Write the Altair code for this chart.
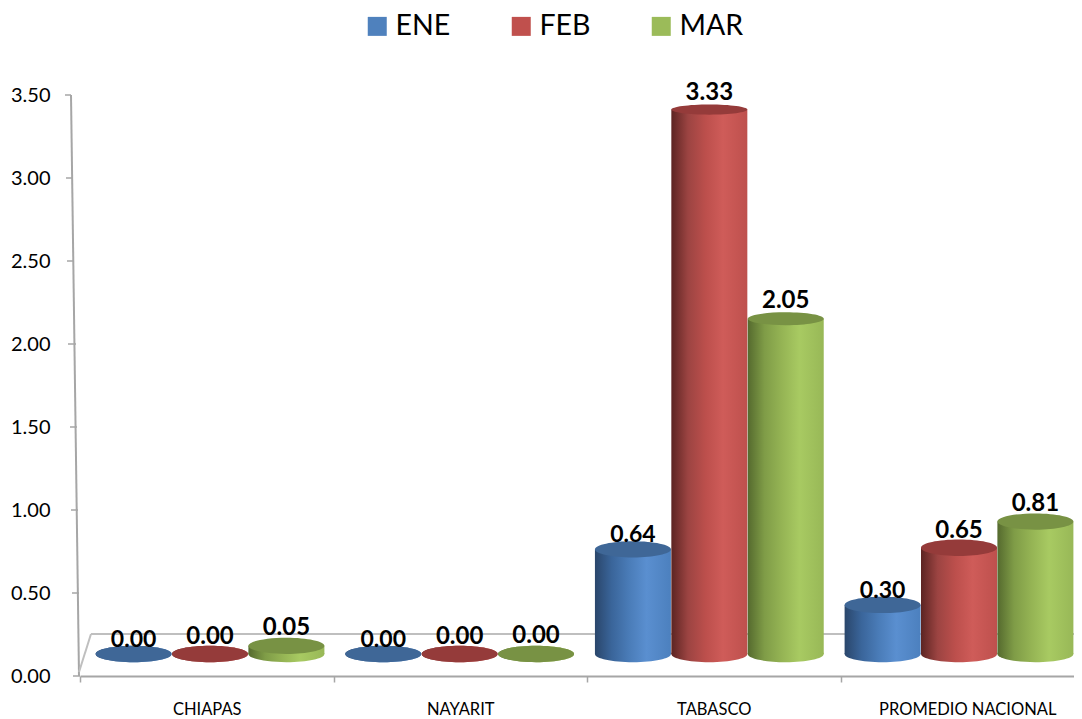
import altair as alt
import pandas as pd

categories = ["CHIAPAS", "NAYARIT", "TABASCO", "PROMEDIO NACIONAL"]
series = ["ENE", "FEB", "MAR"]
ene = [0.00, 0.00, 0.64, 0.30]
feb = [0.00, 0.00, 3.33, 0.65]
mar = [0.05, 0.00, 2.05, 0.81]
y_ticks = [0.0, 0.5, 1.0, 1.5, 2.0, 2.5, 3.0, 3.5]
tick_left = [-6, -7, -8, -9, -11, -12, -13, -14]
tick_right = [1, 0, -1, -2, -3, -5, -7, -8]
legend_colors = ["#4F81BD", "#C0504D", "#9BBB59"]
top_colors = ["#3F6797", "#953B3A", "#789244"]
gradients = [
    ["#2A466B", "#3A659A", "#4A7CB8", "#5A8FD0", "#4C80BE"],
    ["#5C2422", "#9C4442", "#BC4F4C", "#CF5C59", "#BE504D"],
    ["#556A2E", "#7F9C47", "#95B454", "#A8CA62", "#98B857"],
]
label_dy = {"ENE": -14, "FEB": -17, "MAR": -18}
label_size = {"ENE": 23, "FEB": 24, "MAR": 24}
series_shift = {"ENE": -0.306, "FEB": 0.0, "MAR": 0.306}

rows = []
for c_i, c in enumerate(categories):
    for s, vals in zip(series, [ene, feb, mar]):
        rows.append({"cat": c, "ser": s, "pos": c_i + series_shift[s], "val": vals[c_i],
                     "txt": f"{vals[c_i]:.2f}"})
df = pd.DataFrame(rows)

PLOT_W, PLOT_H = 995, 581
FLOOR_PX, PX_PER_UNIT = 22, 163.5
BAR_W = 76

axis_x = alt.Scale(domain=categories, range=[1, 1015], paddingInner=0, paddingOuter=0)
axis_y = alt.Scale(domain=[0, 3.5], range=[PLOT_H, 0])
cyl_x = alt.Scale(domain=[0, 3], range=[131, 880], nice=False, zero=False, padding=0)
cyl_y = alt.Scale(domain=[-FLOOR_PX / PX_PER_UNIT, (PLOT_H - FLOOR_PX) / PX_PER_UNIT],
                  range=[PLOT_H, 0], nice=False, zero=False)

GREY = "#A6A6A6"
LIGHT = "#BFBFBF"

base_axis = (
    alt.Chart(pd.DataFrame({"cat": categories, "v": [0.0] * 4}))
    .mark_point(opacity=0)
    .encode(
        x=alt.X("cat:N", scale=axis_x, sort=categories, title=None,
                axis=alt.Axis(tickBand="extent", labelAngle=0, labelFont="Lato", labelFontSize=16.5,
                              labelColor="#000000", domainColor=GREY, domainWidth=2, tickColor=GREY,
                              tickWidth=1.5, tickSize=6, labelPadding=19, grid=False)),
        y=alt.Y("v:Q", scale=axis_y, title=None,
                axis=alt.Axis(values=y_ticks, format=".2f", domain=False, ticks=False, grid=False,
                              labelFont="Lato", labelFontSize=20, labelColor="#000000", labelPadding=29)),
    )
)

tick_df = pd.DataFrame({"v": y_ticks, "a": tick_left, "b": tick_right})
ticks = alt.Chart(tick_df).mark_rule(color=GREY, strokeWidth=1.5).encode(
    x=alt.X("a:Q", scale=None), x2="b:Q", y=alt.Y("v:Q", scale=axis_y, axis=None))


def seg(x, x2, y, y2, color=GREY, w=2):
    return alt.Chart(pd.DataFrame({"a": [0]})).mark_rule(color=color, strokeWidth=w).encode(
        x=alt.value(x), x2=alt.value(x2), y=alt.value(y), y2=alt.value(y2))


layers = [
    base_axis,
    ticks,
    seg(-8, 0, 0, PLOT_H),
    seg(0, 12, PLOT_H - 4, PLOT_H - 42, LIGHT),
    seg(12, PLOT_W, PLOT_H - 42, PLOT_H - 42, LIGHT),
]

layers.append(
    alt.Chart(df).mark_point(filled=True, opacity=0).encode(
        x=alt.X("pos:Q", scale=cyl_x, axis=None),
        y=alt.Y("val:Q", scale=cyl_y, axis=None),
        color=alt.Color("ser:N", scale=alt.Scale(domain=series, range=legend_colors), title=None,
                        legend=alt.Legend(orient="none", legendX=284, legendY=-83, direction="horizontal",
                                          columns=3, symbolType="square", symbolSize=361, symbolOpacity=1,
                                          symbolStrokeWidth=0, labelFont="Lato", labelFontSize=28.5,
                                          labelColor="#000000", columnPadding=56, labelOffset=4)),
    )
)

ELLIPSE = "M-1,0A1,0.215,0,1,1,1,0A1,0.215,0,1,1,-1,0Z"
ELLIPSE_MID = "M-1,0A1,0.17,0,1,1,1,0A1,0.17,0,1,1,-1,0Z"
ELLIPSE_FLAT = "M-1,0A1,0.135,0,1,1,1,0A1,0.135,0,1,1,-1,0Z"
SIZE = BAR_W ** 2


def common():
    return dict(
        x=alt.X("pos:Q", scale=cyl_x, axis=None),
        y=alt.Y("val:Q", scale=cyl_y, axis=None, stack=None),
    )


for i, s in enumerate(series):
    sub = df[df.ser == s]
    grad = alt.Gradient(
        gradient="linear", x1=0, x2=1, y1=0, y2=0,
        stops=[alt.GradientStop(offset=o, color=c)
               for o, c in zip([0, 0.22, 0.45, 0.68, 1], gradients[i])],
    )
    layers.append(
        alt.Chart(sub.assign(val=0.0)).mark_point(shape=ELLIPSE, size=SIZE, filled=True, fill=grad,
                                                  opacity=1, strokeWidth=0).encode(**common())
    )
    layers.append(
        alt.Chart(sub).mark_bar(fill=grad, orient="vertical", size=BAR_W).encode(**common(), y2=alt.datum(0))
    )
    layers.append(
        alt.Chart(sub)
        .transform_calculate(band="datum.val > 3 ? 'flat' : datum.val > 1.5 ? 'mid' : 'round'")
        .mark_point(filled=True, size=SIZE, fill=top_colors[i], opacity=1, strokeWidth=0)
        .encode(
            **common(),
            shape=alt.Shape("band:N", legend=None,
                            scale=alt.Scale(domain=["round", "mid", "flat"],
                                            range=[ELLIPSE, ELLIPSE_MID, ELLIPSE_FLAT])),
        )
    )

for s in series:
    sub = df[df.ser == s]
    layers.append(
        alt.Chart(sub).mark_text(font="Lato", fontWeight="bold", fontSize=label_size[s], color="#000000",
                                 dy=label_dy[s], baseline="middle").encode(**common(), text="txt:N")
    )

chart = (
    alt.layer(*layers)
    .resolve_scale(x="independent", y="independent", shape="independent")
    .properties(
        width=PLOT_W, height=PLOT_H,
        background="#FFFFFF",
        autosize=alt.AutoSizeParams(type="none"),
        padding={"left": 71, "top": 87, "right": 0, "bottom": 43},
    )
    .configure_view(stroke=None)
)
chart.save("out.html", embed_options={"renderer": "svg", "actions": False})
